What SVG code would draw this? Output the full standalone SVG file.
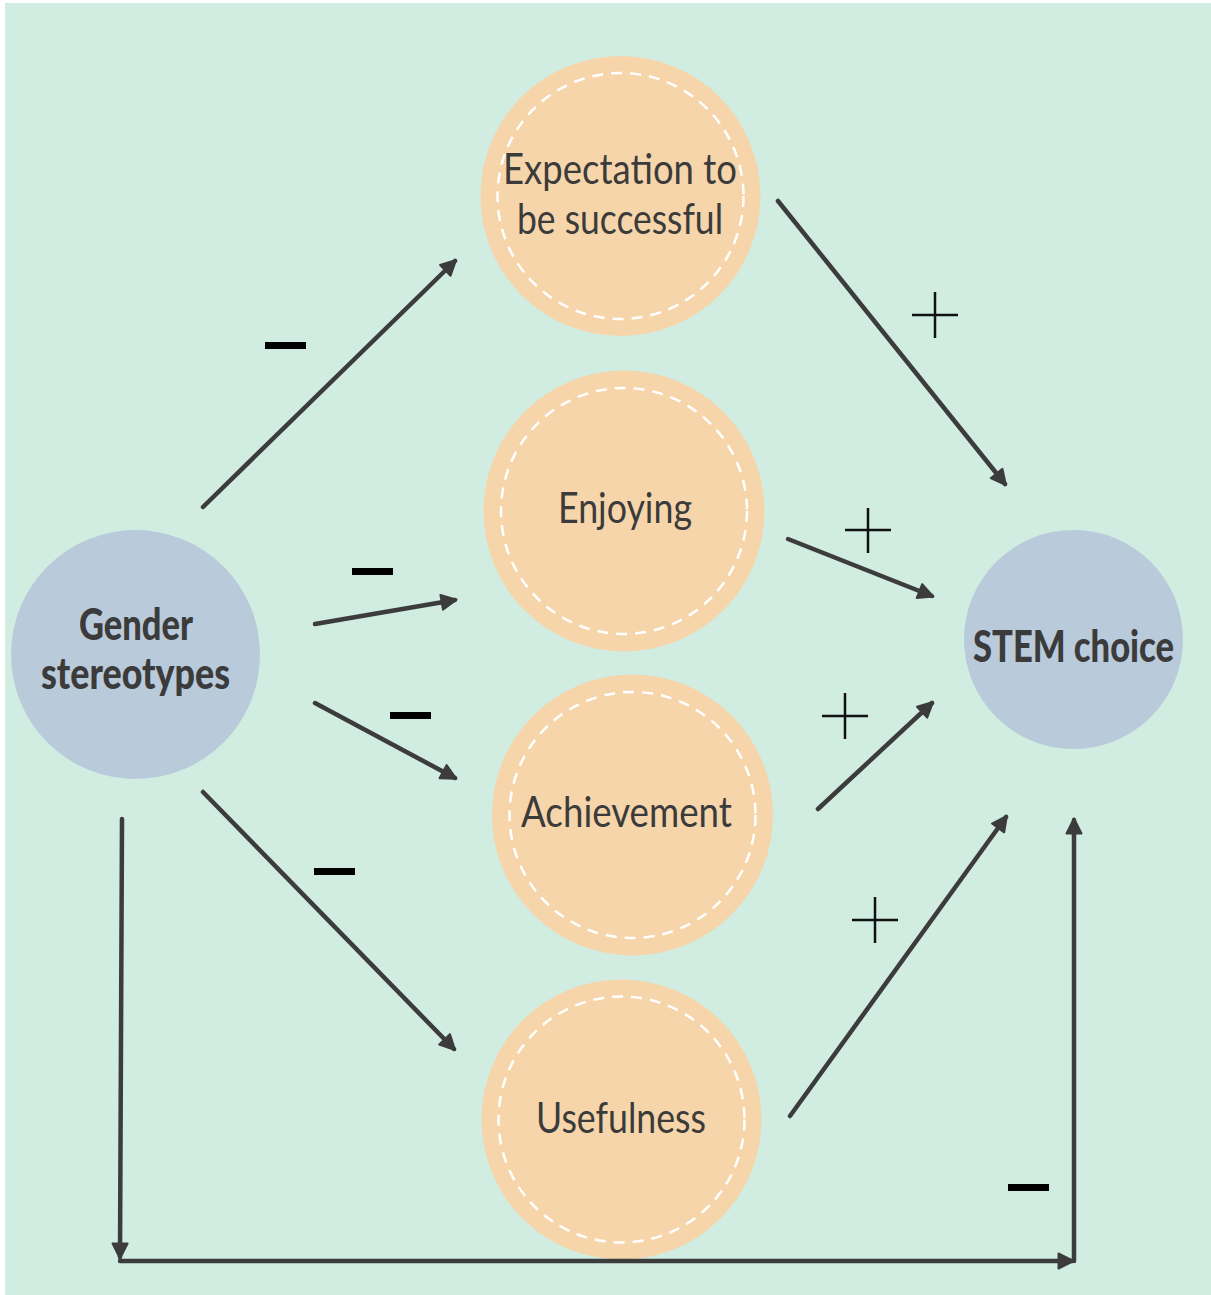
<svg xmlns="http://www.w3.org/2000/svg" width="1211" height="1295" viewBox="0 0 1211 1295">
  <defs>
    <marker id="head" viewBox="0 0 18 18" markerWidth="18" markerHeight="18" refX="15" refY="9" orient="auto" markerUnits="userSpaceOnUse">
      <path d="M1.5,1.5 L16.5,9 L1.5,16.5 Z" fill="#3c3c3c" stroke="#3c3c3c" stroke-width="2" stroke-linejoin="round"/>
    </marker>
    <style>
      .bg { fill: #d1ece0; }
      .factor { fill: #f6d5aa; }
      .stitch { fill: none; stroke: #ffffff; stroke-width: 2.5; stroke-dasharray: 11 8; }
      .pole { fill: #b9cadb; }
      .label { font-family: Lato, "Liberation Sans", sans-serif; font-size: 43px; fill: #3b3b3b; }
      .bold { font-weight: 900; }
      .link { fill: none; stroke: #3c3c3c; stroke-width: 4.5; stroke-linecap: round; marker-end: url(#head); }
      .minus { fill: #000000; }
      .plus { fill: none; stroke: #111111; stroke-width: 2.5; }
    </style>
  </defs>

  <rect class="bg" x="5" y="3" width="1206" height="1292"/>

  <!-- factor nodes -->
  <g id="expectation">
    <circle class="factor" cx="620.5" cy="196" r="140"/>
    <circle class="stitch" cx="620.5" cy="196" r="123"/>
    <text class="label" x="503" y="184" textLength="234" lengthAdjust="spacingAndGlyphs">Expectation to</text>
    <text class="label" x="517" y="234" textLength="206" lengthAdjust="spacingAndGlyphs">be successful</text>
  </g>
  <g id="enjoying">
    <circle class="factor" cx="624" cy="511" r="140.5"/>
    <circle class="stitch" cx="624" cy="511" r="123"/>
    <text class="label" x="558" y="523" textLength="134" lengthAdjust="spacingAndGlyphs">Enjoying</text>
  </g>
  <g id="achievement">
    <circle class="factor" cx="632.5" cy="815" r="140.5"/>
    <circle class="stitch" cx="632.5" cy="815" r="123"/>
    <text class="label" x="521" y="827" textLength="211" lengthAdjust="spacingAndGlyphs">Achievement</text>
  </g>
  <g id="usefulness">
    <circle class="factor" cx="621.5" cy="1119.5" r="140"/>
    <circle class="stitch" cx="621.5" cy="1119.5" r="123"/>
    <text class="label" x="536" y="1133" textLength="170" lengthAdjust="spacingAndGlyphs">Usefulness</text>
  </g>

  <!-- source and outcome -->
  <g id="gender">
    <circle class="pole" cx="135.5" cy="654.5" r="124.5"/>
    <text class="label bold" x="79" y="640" font-size="39" textLength="114" lengthAdjust="spacingAndGlyphs">Gender</text>
    <text class="label bold" x="41" y="689" font-size="39" textLength="189" lengthAdjust="spacingAndGlyphs">stereotypes</text>
  </g>
  <g id="stem">
    <circle class="pole" cx="1073.5" cy="639.5" r="109.5"/>
    <text class="label bold" x="973" y="662" font-size="41" textLength="201" lengthAdjust="spacingAndGlyphs">STEM choice</text>
  </g>

  <!-- connectors -->
  <g id="connectors">
    <line class="link" x1="203" y1="507" x2="455" y2="261"/>
    <line class="link" x1="315" y1="624" x2="455" y2="600"/>
    <line class="link" x1="315" y1="703" x2="455" y2="778"/>
    <line class="link" x1="203" y1="792" x2="454" y2="1049"/>
    <line class="link" x1="778" y1="201" x2="1005" y2="484"/>
    <line class="link" x1="788" y1="539" x2="932" y2="596"/>
    <line class="link" x1="818" y1="809" x2="932" y2="703"/>
    <line class="link" x1="790" y1="1116" x2="1006" y2="817"/>
    <line class="link" x1="122" y1="819" x2="120" y2="1257"/>
    <line class="link" x1="120" y1="1261" x2="1072" y2="1261"/>
    <line class="link" x1="1074" y1="1261" x2="1074" y2="820"/>
  </g>

  <!-- signs on the paths -->
  <g id="signs">
    <rect class="minus" x="265" y="342" width="41" height="7"/>
    <rect class="minus" x="352" y="568" width="41" height="7"/>
    <rect class="minus" x="390" y="712" width="41" height="7"/>
    <rect class="minus" x="314" y="868" width="41" height="7"/>
    <rect class="minus" x="1008" y="1184" width="41" height="7"/>
    <path class="plus" d="M912,315 H958 M935,292 V338"/>
    <path class="plus" d="M845,530 H891 M868,508 V553"/>
    <path class="plus" d="M822,716 H868 M845,693 V739"/>
    <path class="plus" d="M852,920 H898 M875,897 V943"/>
  </g>
</svg>
